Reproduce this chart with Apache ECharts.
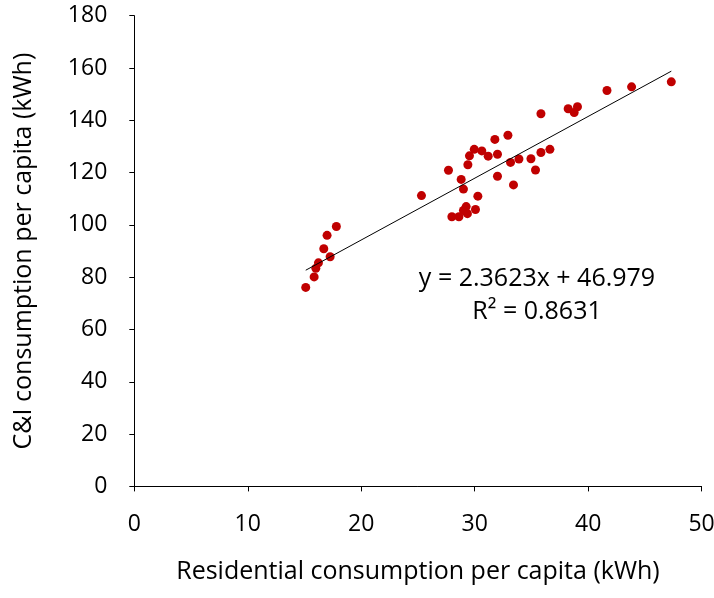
<!DOCTYPE html>
<html>
<head>
<meta charset="utf-8">
<script src="https://cdn.jsdelivr.net/npm/echarts@6/dist/echarts.min.js"></script>
<style>
  html, body { margin: 0; padding: 0; background: #fff; }
  #chart { width: 714px; height: 598px; }
</style>
</head>
<body>
<div id="chart"></div>
<script>
// Residential vs C&I consumption per capita (kWh)
const residential = [47.33, 43.83, 41.66, 39.06, 38.24, 38.77, 35.84, 32.93, 31.78, 29.96,
  30.63, 29.54, 31.19, 32.01, 36.63, 35.84, 34.96, 33.90, 33.16, 27.69,
  29.40, 35.36, 28.81, 32.01, 29.01, 33.42, 25.31, 30.28, 29.25, 29.01,
  30.07, 29.36, 27.99, 28.61, 17.81, 16.99, 16.70, 17.26, 16.23, 16.00,
  15.85, 15.11];
const commercialIndustrial = [154.7, 152.8, 151.4, 145.2, 144.4, 143.0, 142.5, 134.3, 132.7, 128.9,
  128.3, 126.4, 126.3, 127.0, 128.9, 127.7, 125.3, 125.2, 123.9, 120.9,
  123.0, 121.0, 117.4, 118.6, 113.7, 115.3, 111.2, 111.0, 107.0, 105.5,
  105.9, 104.3, 103.1, 103.1, 99.4, 96.0, 90.9, 87.8, 85.5, 83.4,
  80.1, 76.1];

// Linear trend fit
const slope = 2.3623;
const intercept = 46.979;
const rSquared = 0.8631;

const xTicks = { min: 0, max: 50, interval: 10 };
const yTicks = { min: 0, max: 180, interval: 20 };

const FONT = 'Open Sans';
const TICK_SIZE = 23;
const TEXT_SIZE = 25;

const points = residential.map((x, i) => [x, commercialIndustrial[i]]);
// trend line spans the observed residential range
const trendRange = [Math.min(...residential), Math.max(...residential)];
const trend = trendRange.map(x => [x, slope * x + intercept]);

const chart = echarts.init(document.getElementById('chart'), null, { renderer: 'canvas' });
chart.setOption({
  animation: false,
  grid: {
    left: 134.3, right: 12.4, top: 15.7, bottom: 111.6,
    containLabel: false,
    outerBoundsMode: 'none'
  },
  xAxis: {
    type: 'value',
    min: xTicks.min, max: xTicks.max, interval: xTicks.interval,
    name: 'Residential consumption per capita (kWh)',
    nameLocation: 'middle',
    nameGap: 73,
    nameTextStyle: { fontFamily: FONT, fontSize: TEXT_SIZE, color: '#000' },
    axisLine: { lineStyle: { color: '#000', width: 1 } },
    axisTick: { show: true, length: 5, lineStyle: { color: '#000' } },
    axisLabel: { fontFamily: FONT, fontSize: TICK_SIZE, color: '#000', margin: 27, hideOverlap: false },
    splitLine: { show: false }
  },
  yAxis: {
    type: 'value',
    min: yTicks.min, max: yTicks.max, interval: yTicks.interval,
    name: 'C&I consumption per capita (kWh)',
    nameLocation: 'middle',
    nameGap: 98,
    nameTextStyle: { fontFamily: FONT, fontSize: TEXT_SIZE, color: '#000' },
    axisLine: { show: true, lineStyle: { color: '#000', width: 1 } },
    axisTick: { show: true, length: 5, lineStyle: { color: '#000' } },
    axisLabel: { fontFamily: FONT, fontSize: TICK_SIZE, color: '#000', margin: 27 },
    splitLine: { show: false }
  },
  series: [
    {
      type: 'line',
      data: trend,
      symbol: 'none',
      lineStyle: { color: '#000', width: 1 },
      z: 3
    },
    {
      type: 'scatter',
      data: points,
      symbol: 'circle',
      symbolSize: 9,
      itemStyle: { color: '#C00000', opacity: 1 },
      z: 2
    }
  ],
  graphic: [
    {
      type: 'text',
      x: 537, y: 279,
      style: {
        text: 'y = ' + slope + 'x + ' + intercept,
        fontFamily: FONT, fontSize: TEXT_SIZE, fill: '#000',
        align: 'center', verticalAlign: 'middle'
      }
    },
    {
      type: 'text',
      x: 537, y: 312,
      style: {
        text: 'R² = ' + rSquared,
        fontFamily: FONT, fontSize: TEXT_SIZE, fill: '#000',
        align: 'center', verticalAlign: 'middle'
      }
    }
  ]
});
</script>
</body>
</html>
